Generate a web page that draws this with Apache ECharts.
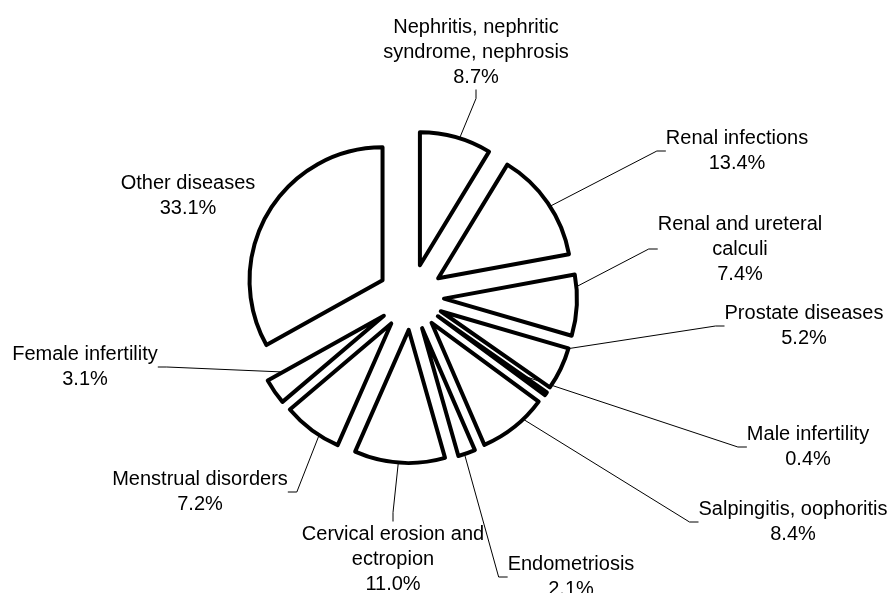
<!DOCTYPE html>
<html>
<head>
<meta charset="utf-8">
<script src="https://cdn.jsdelivr.net/npm/echarts@6/dist/echarts.min.js"></script>
<style>
  html, body { margin: 0; padding: 0; background: #fff; }
  #chart { width: 891px; height: 593px; }
</style>
</head>
<body>
<div id="chart"></div>
<script>
// slices, clockwise from 12 o'clock
const categories = [
  'Nephritis, nephritic\nsyndrome, nephrosis',
  'Renal infections',
  'Renal and ureteral\ncalculi',
  'Prostate diseases',
  'Male infertility',
  'Salpingitis, oophoritis',
  'Endometriosis',
  'Cervical erosion and\nectropion',
  'Menstrual disorders',
  'Female infertility',
  'Other diseases',
];
const values = [8.7, 13.4, 7.4, 5.2, 0.4, 8.4, 2.1, 11.0, 7.2, 3.1, 33.1];

// where each label block sits (centre of text block, px)
const labelPos = [
  [476, 52], [737, 151], [740, 249], [804, 326], [808, 447], [793, 522],
  [571, 577], [393, 559], [200, 492], [85, 367], [188, 196],
];

const chart = echarts.init(document.getElementById('chart'));

const slice = { color: '#fff', borderColor: '#000', borderWidth: 4 };
const center = [411, 297];
const radius = [0, 133];
// Endometriosis leader should hook into the left side of its label:
// pad the label box on the right so the left anchor is the nearest one
const padRight = 100;

chart.setOption({
  animation: false,
  backgroundColor: '#fff',
  series: [
    {
      // exploded slices, drawn on top
      type: 'pie',
      z: 3,
      center,
      radius,
      startAngle: 90,
      clockwise: true,
      selectedMode: 'multiple',
      selectedOffset: 33,
      emphasis: { disabled: true },
      itemStyle: slice,
      select: { itemStyle: slice },
      label: { show: false },
      labelLine: { show: false },
      data: categories.map((name, i) => ({ name, value: values[i], selected: true })),
    },
    {
      // invisible twin that carries the labels and leader lines
      type: 'pie',
      z: 2,
      silent: true,
      center,
      radius,
      startAngle: 90,
      clockwise: true,
      avoidLabelOverlap: false,
      emphasis: { disabled: true },
      itemStyle: { color: 'rgba(0,0,0,0)', borderWidth: 0 },
      label: {
        color: '#000',
        fontFamily: 'Liberation Sans, Arial, sans-serif',
        fontSize: 20,
        lineHeight: 25,
        align: 'center',
        formatter: (p) => p.name + '\n' + p.value.toFixed(1) + '%',
      },
      labelLine: {
        show: true,
        length: 20,
        length2: 9,
        smooth: false,
        minTurnAngle: 0,
        lineStyle: { color: '#000', width: 1 },
      },
      labelLayout: (params) => {
        const p = labelPos[params.dataIndex];
        const dx = params.dataIndex === 6 ? padRight / 2 : 0;
        return { x: p[0] + dx, y: p[1], align: 'center', verticalAlign: 'middle' };
      },
      data: categories.map((name, i) => ({
        name,
        value: values[i],
        label: i === 6 ? { padding: [0, padRight, 0, 0] } : {},
        labelLine: { show: i !== categories.length - 1 },
      })),
    },
  ],
});
</script>
</body>
</html>
